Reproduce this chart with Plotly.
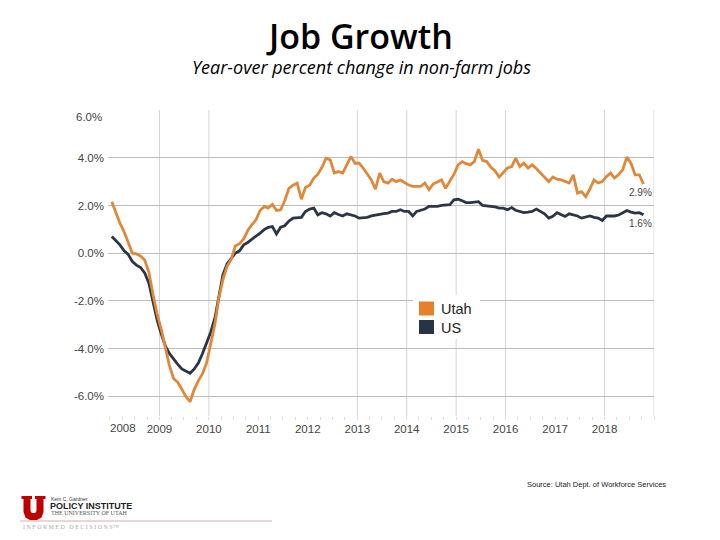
import plotly.graph_objects as go

# ---------------- data ----------------
start_year = 2008
utah = [
    2.16, 1.7, 1.26, 0.9, 0.45, 0.0, -0.03, -0.12, -0.3, -0.8, -1.75, -2.55,
    -3.2, -3.95, -4.7, -5.25, -5.4, -5.7, -6.0, -6.22, -5.7, -5.35, -5.05, -4.6,
    -3.8, -2.95, -1.9, -1.1, -0.55, -0.25, 0.3, 0.4, 0.6, 0.95, 1.2, 1.4,
    1.8, 1.96, 1.89, 2.05, 1.79, 1.82, 2.2, 2.72, 2.85, 2.94, 2.26, 2.75,
    2.85, 3.15, 3.3, 3.6, 3.98, 3.91, 3.36, 3.42, 3.36, 3.70, 4.05, 3.77,
    3.77, 3.55, 3.3, 3.07, 2.68, 3.36, 3.0, 2.94, 3.10, 3.0, 3.07, 2.95,
    2.86, 2.8, 2.79, 2.8, 2.94, 2.66, 2.9, 3.0, 3.07, 2.72, 3.0, 3.3,
    3.70, 3.84, 3.75, 3.70, 3.84, 4.36, 3.89, 3.84, 3.6, 3.45, 3.19, 3.4,
    3.57, 3.63, 3.98, 3.63, 3.77, 3.57, 3.70, 3.55, 3.36, 3.2, 3.0, 3.19,
    3.1, 3.07, 3.0, 2.94, 3.28, 2.52, 2.58, 2.37, 2.7, 3.07, 2.94, 3.0,
    3.21, 3.36, 3.15, 3.3, 3.49, 4.03, 3.77, 3.28, 3.28, 2.9,
]
us = [
    0.70, 0.5, 0.35, 0.1, -0.05, -0.35, -0.5, -0.6, -0.84, -1.26, -2.1, -2.8,
    -3.4, -3.9, -4.2, -4.45, -4.65, -4.85, -4.95, -5.03, -4.85, -4.6, -4.2, -3.75,
    -3.3, -2.7, -1.9, -0.9, -0.45, -0.22, 0.0, 0.1, 0.35, 0.45, 0.6, 0.72,
    0.84, 1.0, 1.08, 1.12, 0.81, 1.09, 1.15, 1.35, 1.47, 1.47, 1.5, 1.75,
    1.85, 1.89, 1.61, 1.70, 1.65, 1.56, 1.70, 1.62, 1.56, 1.65, 1.6, 1.56,
    1.47, 1.47, 1.50, 1.56, 1.60, 1.65, 1.66, 1.68, 1.75, 1.75, 1.82, 1.75,
    1.75, 1.56, 1.75, 1.80, 1.85, 1.96, 1.95, 1.96, 2.0, 2.03, 2.03, 2.24,
    2.26, 2.2, 2.12, 2.12, 2.14, 2.16, 2.0, 1.98, 1.96, 1.94, 1.89, 1.89,
    1.82, 1.91, 1.80, 1.75, 1.70, 1.72, 1.75, 1.85, 1.75, 1.65, 1.47, 1.55,
    1.70, 1.60, 1.54, 1.65, 1.62, 1.56, 1.47, 1.52, 1.56, 1.50, 1.47, 1.37,
    1.56, 1.56, 1.56, 1.60, 1.68, 1.79, 1.72, 1.68, 1.70, 1.61,
]
dates = [f"{start_year + i // 12}-{i % 12 + 1:02d}-15" for i in range(len(utah))]

series_names = ["Utah", "US"]
series_colors = ["#E0883A", "#2A3645"]
legend_colors = ["#E5802B", "#263445"]
end_labels = ["2.9%", "1.6%"]

y_tickvals = [-6, -4, -2, 0, 2, 4]
y_ticktext = ["-6.0%", "-4.0%", "-2.0%", "0.0%", "2.0%", "4.0%"]
top_label = "6.0%"
x_tick_years = [2009, 2010, 2011, 2012, 2013, 2014, 2015, 2016, 2017, 2018]
first_year_label = "2008"
gridline_years = [2009, 2010, 2013, 2014, 2015, 2016, 2018, 2019]

# ---------------- layout geometry (page pixels; page has an 8px body margin) ----------------
PAGE_W, PAGE_H, OFF = 720, 540, 8
W, H = PAGE_W - OFF, PAGE_H - OFF
L, R, T, B = 108, 654, 110, 416   # plot area on the page


def px(x):
    return (x - L) / (R - L)


def py(y):
    return (B - y) / (B - T)


TICK_FONT = dict(family="Liberation Sans", size=11.5, color="#444")

fig = go.Figure()

for vals, name, col in [(us, "US", series_colors[1]), (utah, "Utah", series_colors[0])]:
    fig.add_trace(go.Scatter(x=dates, y=vals, mode="lines", name=name,
                             line=dict(color=col, width=2.8), showlegend=False,
                             hoverinfo="skip"))

shapes = []
for yr in gridline_years:
    shapes.append(dict(type="line", xref="x", yref="paper", x0=f"{yr}-01-01", x1=f"{yr}-01-01",
                       y0=0, y1=1, line=dict(color="#d4d4d4", width=1), layer="below"))

# legend (drawn by hand: squares + labels on a white box)
shapes.append(dict(type="rect", xref="paper", yref="paper", x0=px(413), x1=px(480),
                   y0=py(295), y1=py(339), fillcolor="white", line=dict(width=0), layer="above"))
legend_rows = [308.5, 327]
annotations = []
for name, col, yc in zip(series_names, legend_colors, legend_rows):
    shapes.append(dict(type="rect", xref="paper", yref="paper", x0=px(419), x1=px(434),
                       y0=py(yc - 7), y1=py(yc + 7), fillcolor=col, line=dict(width=0),
                       layer="above"))
    annotations.append(dict(text=name, x=px(439), y=py(yc + 0.5), xref="paper", yref="paper",
                            showarrow=False, xanchor="left", yanchor="middle",
                            font=dict(family="Liberation Sans", size=14.5, color="#222")))

# Utah block "U" logo
u_pts = [(21.5, 496), (32, 496), (32, 499), (30.5, 499), (30.5, 511), (31.8, 513), (35.2, 513),
         (36.5, 511), (36.5, 499), (35, 499), (35, 496), (45.5, 496), (45.5, 499), (43.5, 499),
         (43.5, 512), (41.5, 517.5), (37, 520), (30, 520), (25.5, 517.5), (23.5, 512), (23.5, 499),
         (21.5, 499)]
path = "M " + " L ".join(f"{px(a):.5f},{py(b):.5f}" for a, b in u_pts) + " Z"
shapes.append(dict(type="path", xref="paper", yref="paper", path=path,
                   fillcolor="#BE0000", line=dict(width=0)))
shapes.append(dict(type="line", xref="paper", yref="paper", x0=px(20), x1=px(272),
                   y0=py(521), y1=py(521), line=dict(color="#DDA9AE", width=1.2)))

annotations += [
    dict(text="Job Growth", x=px(359), y=py(36), xref="paper", yref="paper",
         showarrow=False, font=dict(family="Open Sans", size=34, color="#000", weight=600),
         xanchor="center", yanchor="middle"),
    dict(text="<i>Year-over percent change in non-farm jobs</i>", x=px(361), y=py(67),
         xref="paper", yref="paper", showarrow=False,
         font=dict(family="Open Sans", size=18, color="#000"), xanchor="center", yanchor="middle"),
    dict(text=top_label, x=px(104), y=py(117), xref="paper", yref="paper", showarrow=False,
         font=TICK_FONT, xanchor="right", yanchor="middle"),
    dict(text=first_year_label, x=px(123), y=py(428), xref="paper", yref="paper", showarrow=False,
         font=TICK_FONT, xanchor="center", yanchor="middle"),
    dict(text="Source: Utah Dept. of Workforce Services", x=px(525), y=py(484), xref="paper",
         yref="paper", showarrow=False, font=dict(family="Liberation Sans", size=7.5, color="#222"),
         xanchor="left", yanchor="middle"),
    dict(text="Kem C. Gardner", x=px(48.5), y=py(499), xref="paper", yref="paper", showarrow=False,
         font=dict(family="Liberation Sans", size=5, color="#333"), xanchor="left", yanchor="middle"),
    dict(text="<b>POLICY INSTITUTE</b>", x=px(48), y=py(505.5), xref="paper", yref="paper",
         showarrow=False, font=dict(family="Liberation Sans", size=9, color="#222"),
         xanchor="left", yanchor="middle"),
    dict(text="THE UNIVERSITY OF UTAH", x=px(48.5), y=py(513), xref="paper", yref="paper",
         showarrow=False, font=dict(family="Liberation Serif", size=6, color="#555"),
         xanchor="left", yanchor="middle"),
    dict(text="I N F O R M E D   D E C I S I O N S\u2122", x=px(21), y=py(527), xref="paper",
         yref="paper", showarrow=False, font=dict(family="Liberation Serif", size=6, color="#aaa"),
         xanchor="left", yanchor="middle"),
]
for lab, vals in zip(end_labels, [utah, us]):
    annotations.append(dict(text=lab, x=1, xref="paper", y=vals[-1], yref="y", showarrow=False,
                            xanchor="right", yanchor="top", yshift=-1,
                            font=dict(family="Liberation Sans", size=10, color="#444")))

fig.update_layout(
    width=W, height=H,
    margin=dict(l=L - OFF, r=PAGE_W - R, t=T - OFF, b=PAGE_H - B, pad=0),
    paper_bgcolor="white", plot_bgcolor="white",
    showlegend=False,
    shapes=shapes, annotations=annotations,
    xaxis=dict(type="date", range=["2007-12-18", "2019-01-01"], showgrid=False, zeroline=False,
               tickvals=[f"{y}-01-01" for y in x_tick_years], ticktext=[str(y) for y in x_tick_years],
               ticks="", tickfont=TICK_FONT, ticklabelstandoff=4,
               showline=False, fixedrange=True,
               minor=dict(dtick="M3", ticks="outside", ticklen=3, tickcolor="#dddddd", showgrid=False)),
    yaxis=dict(range=[-6.82, 6.0], tickvals=y_tickvals, ticktext=y_ticktext, showgrid=True,
               gridcolor="#bdbdbd", gridwidth=1, zeroline=False, ticks="", showline=False,
               tickfont=TICK_FONT, ticklabelstandoff=3),
)

fig.write_html("out.html")
